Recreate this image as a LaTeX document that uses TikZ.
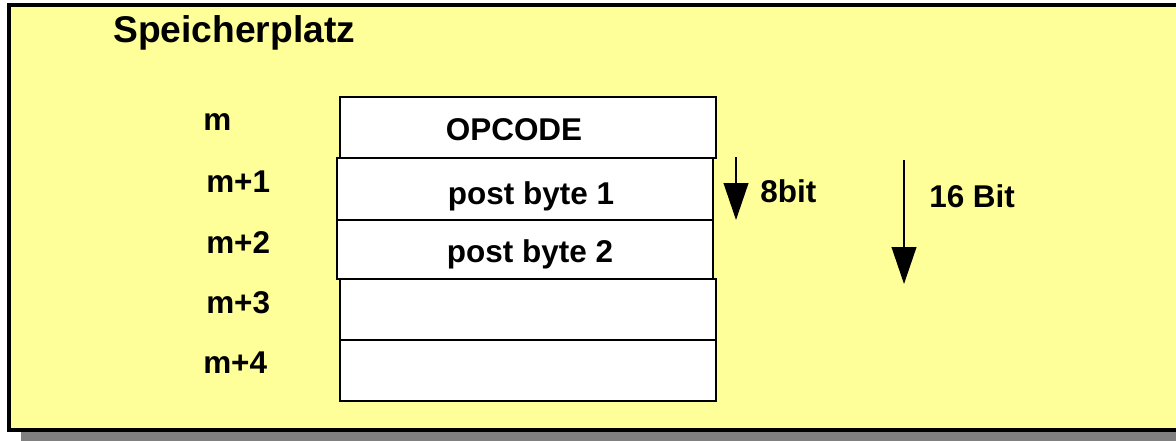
\documentclass[tikz,border=0pt]{standalone}
\usepackage{fontspec}
\setmainfont{Liberation Sans}
\usetikzlibrary{arrows.meta}
\definecolor{paper}{HTML}{FFFF99}
\definecolor{shadowgray}{HTML}{808080}
\tikzset{
  lbl/.style={anchor=base west, inner sep=0pt, font=\fontsize{23.6pt}{26pt}\selectfont\bfseries},
  celltext/.style={anchor=base, inner sep=0pt, font=\fontsize{23.6pt}{26pt}\selectfont\bfseries},
  title/.style={anchor=base west, inner sep=0pt, font=\fontsize{27.9pt}{31pt}\selectfont\bfseries},
  cell/.style={draw=black, fill=white, line width=1.9pt},
  bitarrow/.style={line width=1.5pt, -{Triangle[width=18.5pt,length=27.75pt]}}
}
\begin{document}
\begin{tikzpicture}[x=0.75pt, y=-0.75pt]
  \useasboundingbox (0,0) rectangle (1176,440);
  % shadow and yellow sheet
  \fill[shadowgray] (21,16) rectangle (1200,442);
  \draw[fill=paper, line width=2.3pt] (9,5) rectangle (1200,430);

  % title
  \node[title] (title) at (113,42) {Speicherplatz};

  % memory cells
  \draw[cell] (340,97) rectangle (716,158);
  \draw[cell] (340,279) rectangle (716,340);
  \draw[cell] (340,340) rectangle (716,401);
  \draw[cell] (337,158) rectangle (713,220);
  \draw[cell] (337,220) rectangle (713,279);

  % cell contents
  \node[celltext] (op)  at (514,140) {OPCODE};
  \node[celltext] (pb1) at (531,204) {post byte 1};
  \node[celltext] (pb2) at (530,262) {post byte 2};

  % addresses
  \node[lbl] (m0) at (203,130) {m};
  \node[lbl] (m1) at (206,192) {m+1};
  \node[lbl] (m2) at (206,253) {m+2};
  \node[lbl] (m3) at (206,313) {m+3};
  \node[lbl] (m4) at (203,373) {m+4};

  % word sizes
  \coordinate (a8s) at (736,157);
  \coordinate (a8e) at (736,220);
  \coordinate (a16s) at (904,160);
  \coordinate (a16e) at (904,284);
  \draw[bitarrow] (a8s) -- (a8e);
  \draw[bitarrow] (a16s) -- (a16e);
  \node[lbl] (b8)  at (760,202) {8bit};
  \node[lbl] (b16) at (929,207) {16 Bit};
\end{tikzpicture}
\end{document}
